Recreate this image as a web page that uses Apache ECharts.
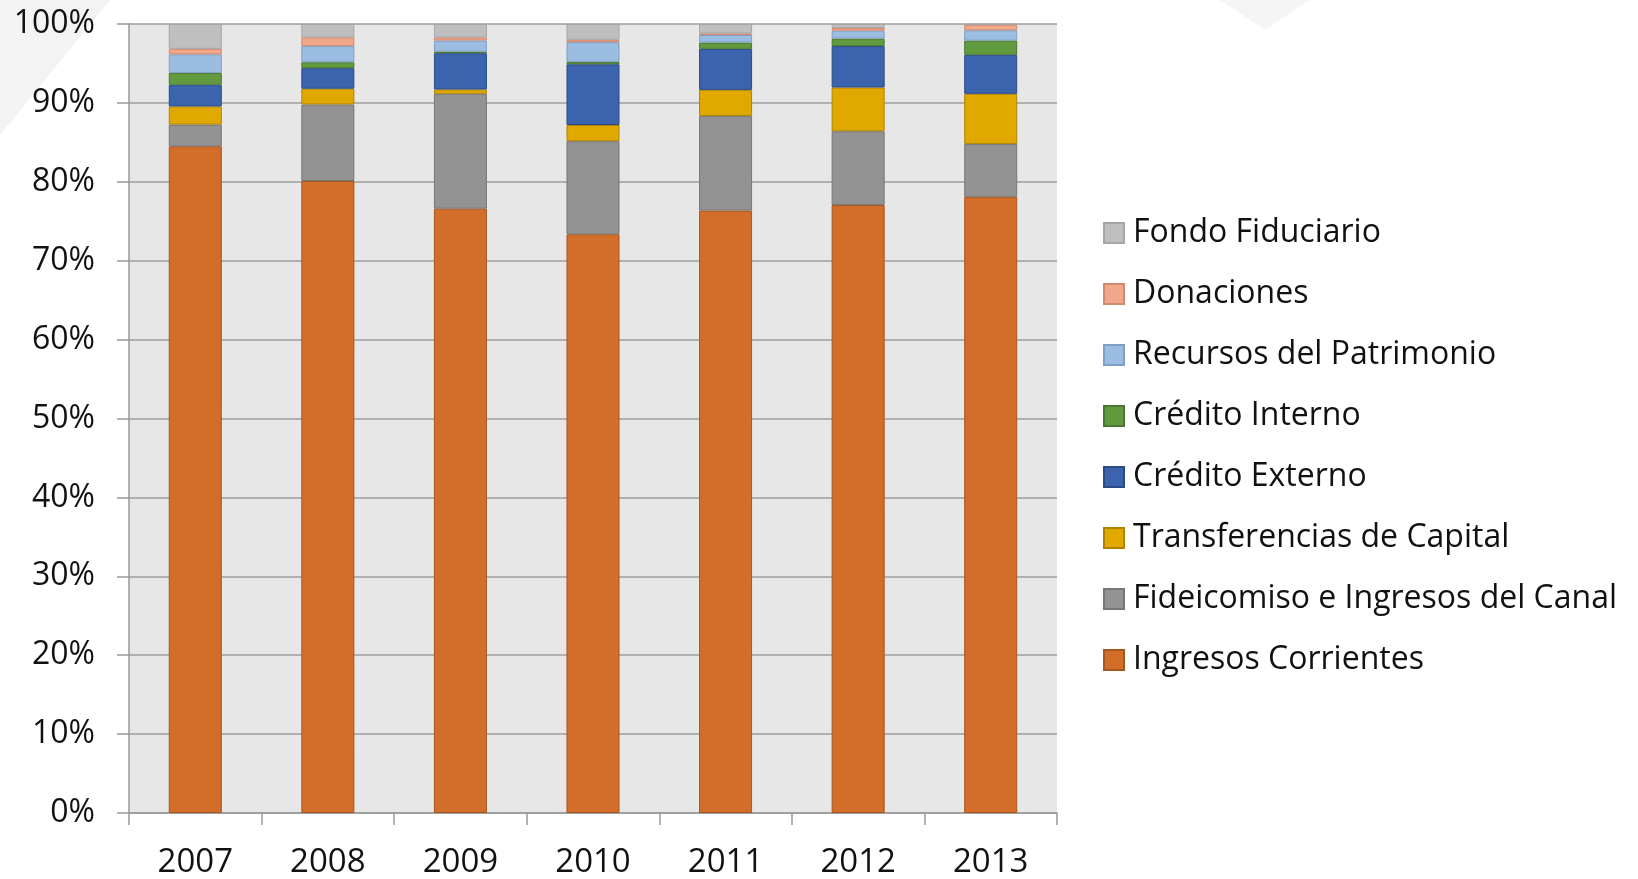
<!DOCTYPE html>
<html>
<head>
<meta charset="utf-8">
<script src="https://cdn.jsdelivr.net/npm/echarts@6/dist/echarts.min.js"></script>
<style>
    html, body { margin: 0; padding: 0; background: #fff; }
    #main { width: 1638px; height: 879px; }
</style>
</head>
<body>
<div id="main"></div>
<script>
// años
var years = ['2007', '2008', '2009', '2010', '2011', '2012', '2013'];

// porcentajes por fuente (de abajo hacia arriba)
var ingresosCorrientes = [84.5, 80.1, 76.6, 73.35, 76.35, 77.05, 78.1];
var fideicomiso = [2.75, 9.7, 14.55, 11.8, 12.0, 9.35, 6.7];
var transferencias = [2.3, 2.0, 0.55, 2.05, 3.3, 5.55, 6.35];
var creditoExterno = [2.75, 2.6, 4.6, 7.7, 5.2, 5.25, 4.95];
var creditoInterno = [1.5, 0.75, 0.2, 0.3, 0.8, 0.95, 1.8];
var recursosPatrimonio = [2.35, 2.05, 1.4, 2.5, 0.95, 1.0, 1.3];
var donaciones = [0.7, 1.1, 0.4, 0.3, 0.2, 0.35, 0.7];
var fondoFiduciario = [3.15, 1.7, 1.7, 2.0, 1.2, 0.5, 0.1];

var seriesNames = ['Ingresos Corrientes', 'Fideicomiso e Ingresos del Canal', 'Transferencias de Capital',
    'Crédito Externo', 'Crédito Interno', 'Recursos del Patrimonio', 'Donaciones', 'Fondo Fiduciario'];
var seriesData = [ingresosCorrientes, fideicomiso, transferencias, creditoExterno,
    creditoInterno, recursosPatrimonio, donaciones, fondoFiduciario];
var colors = ['#d36e2a', '#939393', '#e1a900', '#3c64ae', '#629b3f', '#9bbde2', '#f2a68a', '#bfbfbf'];
var borders = ['#a8561f', '#777777', '#b08400', '#2c4b85', '#4a7830', '#7f9fc4', '#d08a70', '#a6a6a6'];

var font = 'Open Sans';

var chart = echarts.init(document.getElementById('main'));

var series = [];
for (var i = 0; i < seriesNames.length; i++) {
    series.push({
        name: seriesNames[i],
        type: 'bar',
        stack: 'total',
        barWidth: '40%',
        data: seriesData[i],
        itemStyle: {
            color: colors[i],
            borderColor: borders[i],
            borderWidth: 1
        }
    });
}

var option = {
    animation: false,
    backgroundColor: '#fff',
    graphic: [
        // marca de agua tenue arriba a la izquierda
        {
            type: 'polygon',
            silent: true,
            z: -10,
            shape: { points: [[0, 0], [110, 0], [0, 135]] },
            style: { fill: '#f3f3f3' }
        },
        {
            type: 'polygon',
            silent: true,
            z: -10,
            shape: { points: [[1220, 0], [1310, 0], [1265, 30]] },
            style: { fill: '#f5f5f5' }
        }
    ],
    grid: {
        left: 129,
        right: 581,
        top: 24,
        bottom: 64.5,
        show: true,
        backgroundColor: '#e7e7e7',
        borderWidth: 0
    },
    legend: {
        orient: 'vertical',
        left: 1098,
        top: 212,
        itemWidth: 20,
        itemHeight: 20,
        itemGap: 29,
        icon: 'rect',
        data: seriesNames.slice().reverse(),
        textStyle: {
            fontFamily: font,
            fontSize: 32,
            color: '#111',
            lineHeight: 20,
            padding: [0, 0, 0, 4]
        }
    },
    xAxis: {
        type: 'category',
        data: years,
        axisLine: { lineStyle: { color: '#999', width: 1.5 } },
        axisTick: { show: true, length: 12, lineStyle: { color: '#999', width: 1.5 } },
        axisLabel: {
            fontFamily: font,
            fontSize: 33,
            color: '#111',
            margin: 33
        }
    },
    yAxis: {
        type: 'value',
        min: 0,
        max: 100,
        interval: 10,
        axisLine: { show: true, lineStyle: { color: '#999', width: 1.5 } },
        axisTick: { show: true, length: 12, lineStyle: { color: '#999', width: 1.5 } },
        splitLine: { lineStyle: { color: '#9e9e9e', width: 1.5 } },
        axisLabel: {
            formatter: '{value}%',
            fontFamily: font,
            fontSize: 32,
            color: '#111',
            margin: 34
        }
    },
    series: series
};
chart.setOption(option);
</script>
</body>
</html>
